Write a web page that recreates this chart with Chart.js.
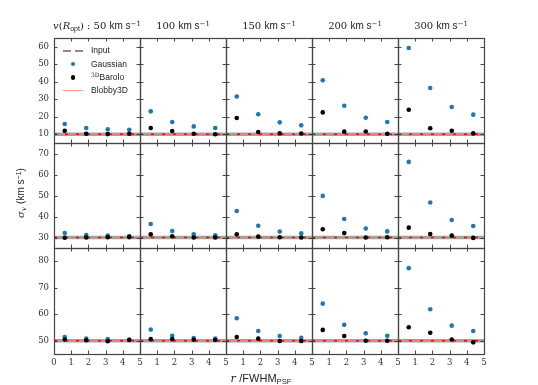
<!DOCTYPE html>
<html><head><meta charset="utf-8">
<script src="https://cdn.jsdelivr.net/npm/chart.js@4/dist/chart.umd.min.js"></script>
<style>
html,body{margin:0;padding:0;background:#fff;}
body{width:538px;height:385px;position:relative;overflow:hidden;}
canvas{position:absolute;}
.t{position:absolute;font-family:"DejaVu Serif",serif;font-size:10px;color:#222;white-space:nowrap;line-height:12px;}
.s{font-family:"Liberation Sans","DejaVu Sans",sans-serif;}
sup,sub{font-size:70%;line-height:0;position:relative;vertical-align:baseline;}
sup{top:-0.5em;} sub{top:0.3em;}
.lg{position:absolute;font-family:"Liberation Sans","DejaVu Sans",sans-serif;font-size:8.5px;color:#222;line-height:10px;white-space:nowrap;}
.mk{position:absolute;}
</style></head>
<body>
<script>
// ---- data ----
const radii = [0.625, 1.875, 3.125, 4.375];
const velocities = [50, 100, 150, 200, 300];
const inputDispersion = [10, 30, 50];
const yRanges = [[5, 65], [25, 75], [45, 85]];
const yTickLabels = [[10, 20, 30, 40, 50, 60], [30, 40, 50, 60, 70], [50, 60, 70, 80]];
const xTickLabels = [0, 1, 2, 3, 4, 5];

const gaussian10 = [[15.9, 13.6, 12.8, 12.6], [23.1, 17.0, 14.5, 13.6], [31.6, 21.4, 16.8, 15.1], [40.8, 26.3, 19.4, 17.0], [59.3, 36.4, 25.6, 21.2]];
const barolo10   = [[12.0, 10.3, 10.1, 10.3], [13.6, 11.9, 10.3, 10.0], [19.3, 11.3, 10.5, 10.4], [22.5, 11.5, 11.6, 10.3], [24.0, 13.4, 12.0, 10.5]];
const gaussian30 = [[32.1, 31.2, 30.9, 30.7], [36.4, 33.1, 31.5, 31.0], [42.6, 35.6, 32.8, 32.0], [49.8, 38.8, 34.3, 32.9], [66.0, 46.7, 38.3, 35.5]];
const barolo30   = [[29.9, 30.0, 30.1, 30.2], [31.5, 30.6, 30.0, 30.0], [31.5, 30.4, 30.1, 30.0], [33.9, 32.1, 30.0, 30.1], [34.7, 31.7, 30.9, 29.8]];
const gaussian50 = [[51.4, 50.8, 50.6, 50.5], [54.2, 51.9, 51.0, 50.8], [58.5, 53.7, 51.8, 51.1], [64.0, 56.0, 52.8, 51.9], [77.4, 61.9, 55.7, 53.7]];
const barolo50   = [[50.5, 50.2, 49.8, 50.3], [50.6, 50.6, 50.4, 50.3], [51.4, 50.8, 49.9, 49.9], [54.1, 51.8, 50.0, 50.0], [55.1, 53.0, 50.5, 49.4]];
const blobby3D   = [[10.4, 9.5], [30.3, 29.8], [50.3, 49.8]];
const blobbyR    = [0, 5];

const gaussianRows = [gaussian10, gaussian30, gaussian50];
const baroloRows = [barolo10, barolo30, barolo50];

// ---- layout ----
const xEdges = [54, 140, 226, 312, 398, 484];
const yEdges = [38, 143, 248, 354];
const padL = 40, padT = 16, padR = 12, padB = 26;

const framePlugin = {
  id: 'frame',
  afterDatasetsDraw(chart) {
    const {ctx, chartArea: a} = chart;
    const x = chart.scales.x, y = chart.scales.y;
    ctx.save();
    ctx.strokeStyle = '#333';
    ctx.lineWidth = 0.9;
    ctx.beginPath();
    x.ticks.forEach(t => {
      const px = Math.round(x.getPixelForValue(t.value)) + 0.5;
      ctx.moveTo(px, a.bottom); ctx.lineTo(px, a.bottom - 3.5);
      ctx.moveTo(px, a.top); ctx.lineTo(px, a.top + 3.5);
    });
    y.ticks.forEach(t => {
      const py = Math.round(y.getPixelForValue(t.value)) + 0.5;
      ctx.moveTo(a.left, py); ctx.lineTo(a.left + 3.5, py);
      ctx.moveTo(a.right, py); ctx.lineTo(a.right - 3.5, py);
    });
    ctx.stroke();
    ctx.strokeStyle = '#444';
    ctx.lineWidth = 1.2;
    ctx.strokeRect(a.left + 0.5, a.top + 0.5, a.right - a.left, a.bottom - a.top);
    ctx.restore();
  }
};

function pts(arr) { return radii.map((r, i) => ({x: r, y: arr[i]})); }

function makePanel(r, c) {
  const L = xEdges[c], R = xEdges[c + 1], T = yEdges[r], B = yEdges[r + 1];
  const W = R - L, H = B - T;
  const cv = document.createElement('canvas');
  cv.width = padL + W + padR; cv.height = padT + H + padB;
  cv.style.left = (L - padL) + 'px'; cv.style.top = (T - padT) + 'px';
  document.body.appendChild(cv);
  const inp = inputDispersion[r];
  new Chart(cv, {
    type: 'scatter',
    data: {datasets: [
      {label: '3D Barolo', data: pts(baroloRows[r][c]), backgroundColor: '#000', borderColor: '#000', pointRadius: 2.3, borderWidth: 0, order: 0},
      {label: 'Gaussian', data: pts(gaussianRows[r][c]), backgroundColor: '#1f77b4', borderColor: '#1f77b4', pointRadius: 2.3, borderWidth: 0, order: 1},
      {label: 'Blobby3D (dashed)', data: [{x: 0, y: inp}, {x: 5, y: inp}], showLine: true, borderColor: '#ff0000', borderWidth: 1.6, borderDash: [3, 8], pointRadius: 0, order: 2},
      {label: 'Blobby3D', data: blobbyR.map((x, i) => ({x, y: blobby3D[r][i]})), showLine: true, borderColor: 'rgba(255,110,110,0.55)', borderWidth: 1, pointRadius: 0, order: 3},
      {label: 'Input', data: [{x: 0, y: inp}, {x: 5, y: inp}], showLine: true, borderColor: 'rgba(140,140,140,0.8)', borderWidth: 3.5, pointRadius: 0, order: 4}
    ]},
    options: {
      responsive: false, animation: false, events: [],
      layout: {padding: {left: 0, top: padT, right: padR, bottom: 0}},
      plugins: {legend: {display: false}, tooltip: {enabled: false}},
      scales: {
        x: {
          type: 'linear', min: 0, max: 5,
          grid: {display: false, drawTicks: false, tickLength: 0}, border: {display: false},
          afterBuildTicks: s => { s.ticks = xTickLabels.map(v => ({value: v})); },
          ticks: {display: r === 2, padding: 4, autoSkip: false, maxRotation: 0, color: '#333',
                  font: {family: 'DejaVu Serif', size: 8.5},
                  callback: v => (v === 0 && c > 0) ? '' : String(v)},
          afterFit: s => { s.height = padB; }
        },
        y: {
          type: 'linear', min: yRanges[r][0], max: yRanges[r][1],
          grid: {display: false, drawTicks: false, tickLength: 0}, border: {display: false},
          afterBuildTicks: s => { s.ticks = yTickLabels[r].map(v => ({value: v})); },
          ticks: {display: c === 0, padding: 5, autoSkip: false, color: '#333',
                  font: {family: 'DejaVu Serif', size: 8.5},
                  callback: v => String(v)},
          afterFit: s => { s.width = padL; }
        }
      }
    },
    plugins: [framePlugin]
  });
}

for (let r = 0; r < 3; r++) for (let c = 0; c < 5; c++) makePanel(r, c);

// ---- titles ----
velocities.forEach((v, c) => {
  const d = document.createElement('div');
  d.className = 't';
  const cx = (xEdges[c] + xEdges[c + 1]) / 2;
  d.style.left = cx + 'px'; d.style.top = '20px'; d.style.transform = 'translateX(-50%)';
  const unit = ' <span class="s">km s</span><sup>−1</sup>';
  d.innerHTML = (c === 0 ? '<i>v</i>(<i>R</i><sub class="s">opt</sub>) : ' : '') + v + unit;
  document.body.appendChild(d);
});

// axis labels
const yl = document.createElement('div');
yl.className = 't';
yl.style.left = '21px'; yl.style.top = '193px';
yl.style.transform = 'translate(-50%,-50%) rotate(-90deg)';
yl.innerHTML = '<i>σ</i><sub><i>v</i></sub> <span class="s">(km s<sup>−1</sup>)</span>';
document.body.appendChild(yl);

const xl = document.createElement('div');
xl.className = 't';
xl.style.left = '261px'; xl.style.top = '372px'; xl.style.fontSize = '11px';
xl.style.transform = 'translateX(-50%)';
xl.innerHTML = '<i>r</i> <span class="s">/FWHM<sub>PSF</sub></span>';
document.body.appendChild(xl);

// ---- legend ----
const legendRows = [
  {y: 50.5, text: 'Input'},
  {y: 64, text: 'Gaussian'},
  {y: 77.3, text: '<sup style="font-family:DejaVu Serif">3D</sup>Barolo'},
  {y: 90.5, text: 'Blobby3D'}
];
legendRows.forEach(row => {
  const d = document.createElement('div');
  d.className = 'lg';
  d.style.left = '91px'; d.style.top = (row.y - 5.5) + 'px';
  d.innerHTML = row.text;
  document.body.appendChild(d);
});
function mk(style) { const d = document.createElement('div'); d.className = 'mk'; Object.assign(d.style, style); document.body.appendChild(d); }
mk({left: '63px', top: '49.5px', width: '8px', height: '2.5px', background: '#8c8c8c'});
mk({left: '75px', top: '49.5px', width: '8px', height: '2.5px', background: '#8c8c8c'});
mk({left: '70.7px', top: '61.7px', width: '4.6px', height: '4.6px', borderRadius: '50%', background: '#1f77b4'});
mk({left: '70.7px', top: '75px', width: '4.6px', height: '4.6px', borderRadius: '50%', background: '#000'});
mk({left: '63px', top: '89.8px', width: '20px', height: '1.4px', background: 'rgba(255,120,120,0.8)'});
</script>
</body></html>
